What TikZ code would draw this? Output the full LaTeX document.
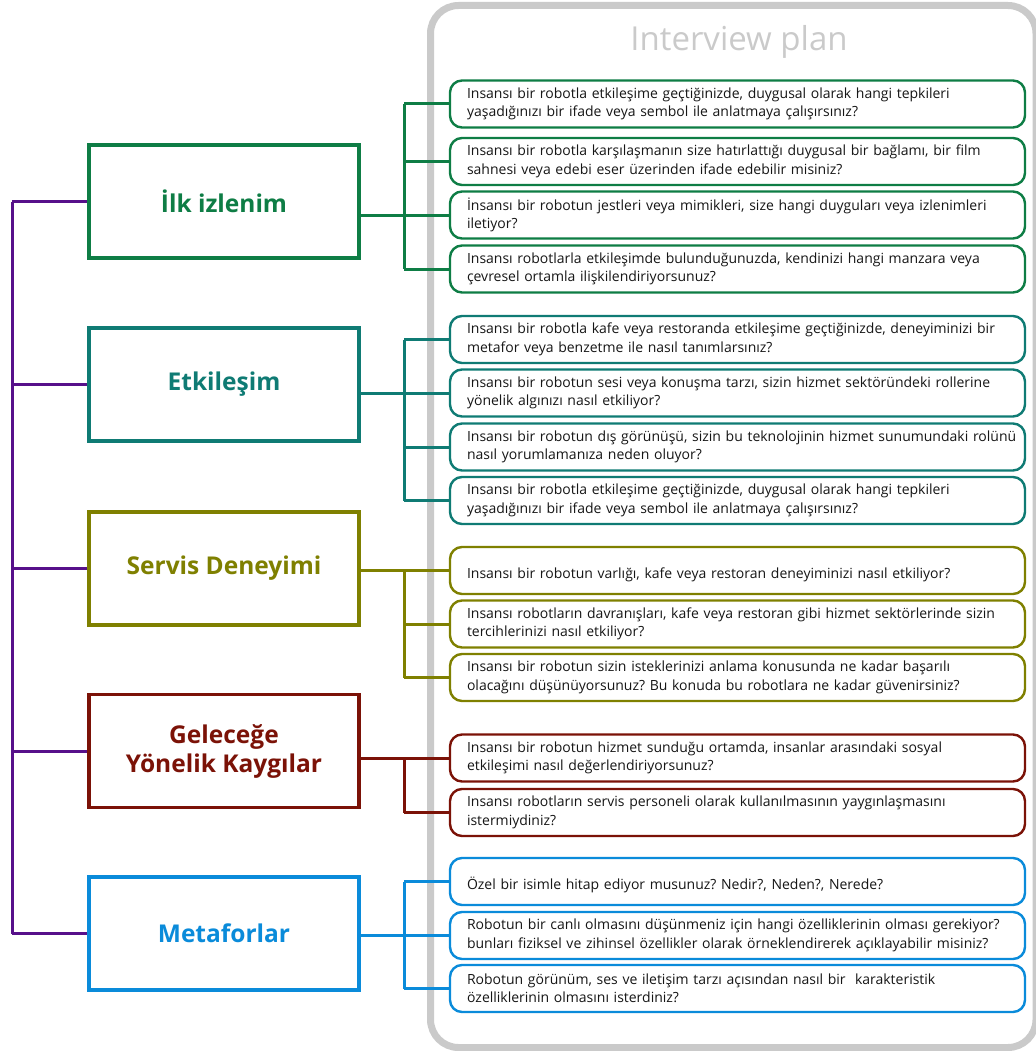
\documentclass[tikz,border=0pt]{standalone}
\usepackage{fontspec}
\setmainfont{Open Sans}
\definecolor{cgreen}{HTML}{0E7D45}
\definecolor{cteal}{HTML}{0F7B74}
\definecolor{colive}{HTML}{7F8000}
\definecolor{cred}{HTML}{7B1207}
\definecolor{cblue}{HTML}{0A8BDA}
\definecolor{cpurple}{HTML}{57108A}
\definecolor{cpanel}{HTML}{CACACA}
\definecolor{qtext}{HTML}{161616}
\newcommand{\qlines}[2]{\mbox{#1}\\\mbox{#2}}
\begin{document}
\frenchspacing
\begin{tikzpicture}[x=1pt,y=-1pt,
  topic/.style={draw, line width=3.2pt, fill=white, minimum width=270pt, minimum height=113pt,
    font=\fontsize{24.5}{29}\selectfont\bfseries, align=center, inner sep=0pt},
  qbox/.style={draw, line width=2.4pt, fill=white, rounded corners=12pt, minimum width=575pt,
    minimum height=47pt, text width=541pt, align=left, inner xsep=17pt, inner ysep=0pt,
    font=\fontsize{14}{18.5}\selectfont\frenchspacing, text=qtext},
  link/.style={line width=3pt}
]
\useasboundingbox (0,0) rectangle (1035,1051);
% panel
\draw[cpanel, line width=7pt, rounded corners=28pt] (430.5,5.5) rectangle (1036,1047.5);
\node[text=cpanel, font=\fontsize{33}{38}\selectfont] (title) at (739,42) {Interview plan};

\coordinate (spine) at (12,0);
\coordinate (bus) at (404,0);

% topics
\node[topic, draw=cgreen, text=cgreen] (ilk) at (224,201.5) {İlk izlenim};
\node[topic, draw=cteal, text=cteal] (etk) at (224,384.5) {Etkileşim};
\node[topic, draw=colive, text=colive] (ser) at (224,568.5) {Servis Deneyimi};
\node[topic, draw=cred, text=cred] (gel) at (224,751) {Geleceğe\\Yönelik Kaygılar};
\node[topic, draw=cblue, text=cblue] (met) at (224,933.5) {Metaforlar};

% questions
\node[qbox, draw=cgreen] (a1) at (737.5,104) {\qlines{Insansı bir robotla etkileşime geçtiğinizde, duygusal olarak hangi tepkileri}{yaşadığınızı bir ifade veya sembol ile anlatmaya çalışırsınız?}};
\node[qbox, draw=cgreen] (a2) at (737.5,161.5) {\qlines{Insansı bir robotla karşılaşmanın size hatırlattığı duygusal bir bağlamı, bir film}{sahnesi veya edebi eser üzerinden ifade edebilir misiniz?}};
\node[qbox, draw=cgreen] (a3) at (737.5,215) {\qlines{İnsansı bir robotun jestleri veya mimikleri, size hangi duyguları veya izlenimleri}{iletiyor?}};
\node[qbox, draw=cgreen] (a4) at (737.5,269) {\qlines{Insansı robotlarla etkileşimde bulunduğunuzda, kendinizi hangi manzara veya}{çevresel ortamla ilişkilendiriyorsunuz?}};

\node[qbox, draw=cteal] (b1) at (737.5,339.5) {\qlines{Insansı bir robotla kafe veya restoranda etkileşime geçtiğinizde, deneyiminizi bir}{metafor veya benzetme ile nasıl tanımlarsınız?}};
\node[qbox, draw=cteal] (b2) at (737.5,393) {\qlines{Insansı bir robotun sesi veya konuşma tarzı, sizin hizmet sektöründeki rollerine}{yönelik algınızı nasıl etkiliyor?}};
\node[qbox, draw=cteal] (b3) at (737.5,447) {\qlines{Insansı bir robotun dış görünüşü, sizin bu teknolojinin hizmet sunumundaki rolünü}{nasıl yorumlamanıza neden oluyor?}};
\node[qbox, draw=cteal] (b4) at (737.5,500.5) {\qlines{Insansı bir robotla etkileşime geçtiğinizde, duygusal olarak hangi tepkileri}{yaşadığınızı bir ifade veya sembol ile anlatmaya çalışırsınız?}};

\node[qbox, draw=colive] (c1) at (737.5,570.5) {\qlines{}{Insansı bir robotun varlığı, kafe veya restoran deneyiminizi nasıl etkiliyor?}};
\node[qbox, draw=colive] (c2) at (737.5,624) {\qlines{Insansı robotların davranışları, kafe veya restoran gibi hizmet sektörlerinde sizin}{tercihlerinizi nasıl etkiliyor?}};
\node[qbox, draw=colive] (c3) at (737.5,677.5) {\qlines{Insansı bir robotun sizin isteklerinizi anlama konusunda ne kadar başarılı}{olacağını düşünüyorsunuz? Bu konuda bu robotlara ne kadar güvenirsiniz?}};

\node[qbox, draw=cred] (d1) at (737.5,758) {\qlines{Insansı bir robotun hizmet sunduğu ortamda, insanlar arasındaki sosyal}{etkileşimi nasıl değerlendiriyorsunuz?}};
\node[qbox, draw=cred] (d2) at (737.5,812.5) {\qlines{Insansı robotların servis personeli olarak kullanılmasının yaygınlaşmasını}{istermiydiniz?}};

\node[qbox, draw=cblue] (e1) at (737.5,881.5) {\qlines{}{Özel bir isimle hitap ediyor musunuz? Nedir?, Neden?, Nerede?}};
\node[qbox, draw=cblue] (e2) at (737.5,935.5) {\qlines{Robotun bir canlı olmasını düşünmeniz için hangi özelliklerinin olması gerekiyor?}{bunları fiziksel ve zihinsel özellikler olarak örneklendirerek açıklayabilir misiniz?}};
\node[qbox, draw=cblue] (e3) at (737.5,988.5) {\qlines{Robotun görünüm, ses ve iletişim tarzı açısından nasıl bir\ \ karakteristik}{özelliklerinin olmasını isterdiniz?}};

% spine
\draw[link, cpurple] (ilk.west -| spine) -- (met.west -| spine);
\foreach \t in {ilk,etk,ser,gel,met}
  \draw[link, cpurple] (\t.west -| spine) -- (\t.west);

% buses
\draw[link, cgreen] (a1.west -| bus) -- (a4.west -| bus);
\foreach \q in {a1,a2,a3,a4} \draw[link, cgreen] (\q.west -| bus) -- (\q.west);
\draw[link, cgreen] (ilk.east |- a3.west) -- (a3.west -| bus);

\draw[link, cteal] (b1.west -| bus) -- (b4.west -| bus);
\foreach \q in {b1,b2,b3,b4} \draw[link, cteal] (\q.west -| bus) -- (\q.west);
\draw[link, cteal] (etk.east |- b2.west) -- (b2.west -| bus);

\draw[link, colive] (c1.west -| bus) -- (c3.west -| bus);
\foreach \q in {c1,c2,c3} \draw[link, colive] (\q.west -| bus) -- (\q.west);
\draw[link, colive] (ser.east |- c1.west) -- (c1.west -| bus);

\draw[link, cred] (d1.west -| bus) -- (d2.west -| bus);
\foreach \q in {d1,d2} \draw[link, cred] (\q.west -| bus) -- (\q.west);
\draw[link, cred] (gel.east |- d1.west) -- (d1.west -| bus);

\draw[link, cblue] (e1.west -| bus) -- (e3.west -| bus);
\foreach \q in {e1,e2,e3} \draw[link, cblue] (\q.west -| bus) -- (\q.west);
\draw[link, cblue] (met.east |- e2.west) -- (e2.west -| bus);
\end{tikzpicture}
\end{document}
